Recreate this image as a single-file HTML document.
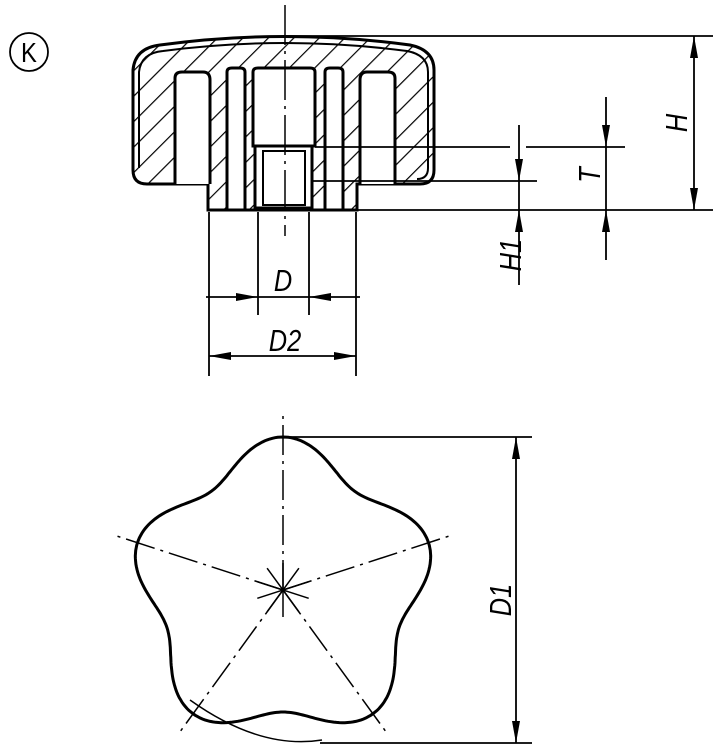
<!DOCTYPE html>
<html><head><meta charset="utf-8"><style>
html,body{margin:0;padding:0;background:#fff;width:718px;height:750px;overflow:hidden}
svg text{font-family:"Liberation Sans",sans-serif;font-style:italic;fill:#000}
</style></head><body>
<svg id="s" width="718" height="750" viewBox="0 0 718 750" xmlns="http://www.w3.org/2000/svg">
<defs>
<pattern id="h" patternUnits="userSpaceOnUse" width="18" height="18" patternTransform="rotate(45)">
<rect width="18" height="18" fill="#fff"/><line x1="0" y1="0" x2="0" y2="18" stroke="#000" stroke-width="2.4"/>
</pattern>
<marker id="a" viewBox="0 0 22 8" refX="22" refY="4" markerWidth="22" markerHeight="8" markerUnits="userSpaceOnUse" orient="auto-start-reverse"><path d="M0,0L22,4L0,8z" fill="#000"/></marker>
</defs>
<circle cx="29" cy="52" r="19" fill="none" stroke="#000" stroke-width="1.8"/>
<text x="29" y="62" font-size="28" text-anchor="middle" transform="translate(29,0) scale(0.85,1) translate(-29,0)" style="font-style:normal">K</text>

<!-- knob section -->
<path d="M133,170 L133,70 Q135,48 160,45 Q285,28 410,45 Q434,50 434,70 L434,170 Q434,184 420,184 L357,184 L357,210 L208,210 L208,184 L147,184 Q133,184 133,170Z" fill="url(#h)" stroke="#000" stroke-width="3"/>
<path d="M139,168 L139,72 Q141,53 163,51 Q285,35 407,51 Q428,55 428,72 L428,168 Q428,179 417,179" fill="none" stroke="#000" stroke-width="2"/>
<g fill="#fff" stroke="#000" stroke-width="3">
<path d="M175,184 L175,78 Q175,72 182,72 L203,72 Q210,72 210,80 L210,184"/>
<path d="M360,184 L360,80 Q360,72 367,72 L388,72 Q395,72 395,78 L395,184"/>
<path d="M227,210 L227,72 Q227,68 232,68 L240,68 Q245,68 245,72 L245,210"/>
<path d="M325,210 L325,72 Q325,68 330,68 L338,68 Q343,68 343,72 L343,210"/>
<path d="M253,146 L253,72 Q253,68 258,68 L310,68 Q315,68 315,72 L315,146 Z"/>
<rect x="255" y="146" width="57" height="62"/>
<rect x="263" y="151" width="42" height="54" stroke-width="2"/>
</g>
<line x1="208" y1="210" x2="357" y2="210" stroke="#000" stroke-width="3"/>
<line x1="285" y1="5" x2="285" y2="236" stroke="#000" stroke-width="1.5" stroke-dasharray="40,6,3,6"/>

<g stroke="#000" stroke-width="1.8" fill="none">
<line x1="285" y1="36" x2="713" y2="36"/>
<line x1="315" y1="147" x2="510" y2="147"/><line x1="526" y1="147" x2="625" y2="147"/>
<line x1="312" y1="181" x2="537" y2="181"/>
<line x1="357" y1="210" x2="713" y2="210"/>
<line x1="694" y1="36" x2="694" y2="210" marker-start="url(#a)" marker-end="url(#a)"/>
<line x1="606" y1="97" x2="606" y2="147" marker-end="url(#a)"/>
<line x1="606" y1="147" x2="606" y2="210"/>
<line x1="606" y1="260" x2="606" y2="210" marker-end="url(#a)"/>
<line x1="519" y1="125" x2="519" y2="181" marker-end="url(#a)"/>
<line x1="519" y1="181" x2="519" y2="210"/>
<line x1="519" y1="285" x2="519" y2="210" marker-end="url(#a)"/>
<line x1="209" y1="212" x2="209" y2="376"/><line x1="356" y1="212" x2="356" y2="376"/>
<line x1="258" y1="212" x2="258" y2="315"/><line x1="309" y1="212" x2="309" y2="315"/>
<line x1="206" y1="297" x2="258" y2="297" marker-end="url(#a)"/>
<line x1="258" y1="297" x2="309" y2="297"/>
<line x1="360" y1="297" x2="309" y2="297" marker-end="url(#a)"/>
<line x1="209" y1="356" x2="356" y2="356" marker-start="url(#a)" marker-end="url(#a)"/>
<line x1="283" y1="437" x2="532" y2="437"/>
<line x1="320" y1="743" x2="532" y2="743"/>
<line x1="516" y1="437" x2="516" y2="743" marker-start="url(#a)" marker-end="url(#a)"/>
</g>
<g font-size="31" text-anchor="middle">
<text transform="translate(283,291) scale(0.82,1)">D</text>
<text transform="translate(285,351) scale(0.82,1)">D2</text>
<text transform="translate(687,123) rotate(-90) scale(0.82,1)">H</text>
<text transform="translate(600,175) rotate(-90) scale(0.82,1)">T</text>
<text transform="translate(521,255) rotate(-90) scale(0.82,1)">H1</text>
<text transform="translate(511,600) rotate(-90) scale(0.82,1)">D1</text>
</g>

<!-- flower -->
<path id="fl" fill="none" stroke="#000" stroke-width="3"/>
<path d="M190,700 Q260,750 322,740" fill="none" stroke="#000" stroke-width="1.5"/>
<g id="cl" stroke="#000" stroke-width="1.5"></g>
</svg>
<script>
(function(){
var cx=283,cy=590,d="";
for(var i=0;i<=360;i++){var t=i*Math.PI/180;var r=137.5+15.5*Math.cos(5*(t+Math.PI/2));
var x=cx+r*Math.cos(t),y=cy+r*Math.sin(t);d+=(i?"L":"M")+x.toFixed(1)+","+y.toFixed(1);}
document.getElementById("fl").setAttribute("d",d+"Z");
var g=document.getElementById("cl"),s="";
for(var k=0;k<5;k++){var a=(-90+72*k)*Math.PI/180,L=(k==0?180:178);
s+='<line x1="'+cx+'" y1="'+cy+'" x2="'+(cx+L*Math.cos(a)).toFixed(1)+'" y2="'+(cy+L*Math.sin(a)).toFixed(1)+'" stroke-dasharray="30,6,3,6"/>';}
for(var k=0;k<5;k++){var a=(-90+36*k)*Math.PI/180;
s+='<line x1="'+(cx-27*Math.cos(a)).toFixed(1)+'" y1="'+(cy-27*Math.sin(a)).toFixed(1)+'" x2="'+(cx+27*Math.cos(a)).toFixed(1)+'" y2="'+(cy+27*Math.sin(a)).toFixed(1)+'"/>';}
g.innerHTML=s;
})();
</script>
</body></html>
